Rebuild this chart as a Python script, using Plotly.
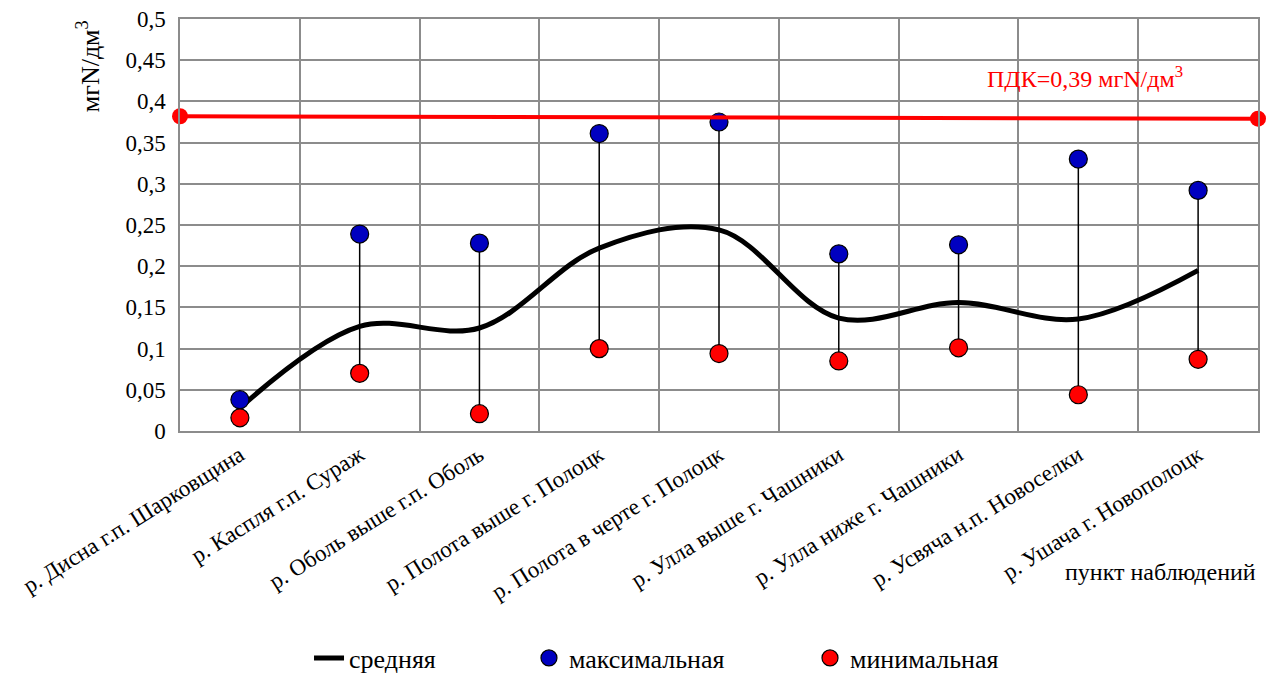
import plotly.graph_objects as go

categories = [
    "р. Дисна г.п. Шарковщина",
    "р. Каспля г.п. Сураж",
    "р. Оболь выше г.п. Оболь",
    "р. Полота выше г. Полоцк",
    "р. Полота в черте г. Полоцк",
    "р. Улла выше г. Чашники",
    "р. Улла ниже г. Чашники",
    "р. Усвяча н.п. Новоселки",
    "р. Ушача г. Новополоцк",
]
mean_vals = [0.028, 0.127, 0.125, 0.222, 0.244, 0.137, 0.156, 0.136, 0.195]
max_vals = [0.038, 0.239, 0.228, 0.361, 0.375, 0.215, 0.226, 0.330, 0.292]
min_vals = [0.016, 0.070, 0.021, 0.100, 0.094, 0.085, 0.101, 0.044, 0.087]
pdk_x = [0, 1]
pdk_vals = [0.382, 0.379]
y_ticks = [0, 0.05, 0.1, 0.15, 0.2, 0.25, 0.3, 0.35, 0.4, 0.45, 0.5]
y_ticktext = ["0", "0,05", "0,1", "0,15", "0,2", "0,25", "0,3", "0,35", "0,4", "0,45", "0,5"]

FONT = "Liberation Serif"
GRID = "#8c8c8c"


def f(size, color="black"):
    return dict(family=FONT, size=size, color=color)


fig = go.Figure()

# high-low connector lines
hl_x, hl_y = [], []
for c, lo, hi in zip(categories, min_vals, max_vals):
    hl_x += [c, c, None]
    hl_y += [lo, hi, None]
fig.add_trace(go.Scatter(x=hl_x, y=hl_y, mode="lines",
                         line=dict(color="black", width=1.5),
                         showlegend=False, hoverinfo="skip"))

fig.add_trace(go.Scatter(x=categories, y=mean_vals, mode="lines", name="средняя",
                         line=dict(color="black", width=5, shape="spline", smoothing=1.0),
                         legend="legend"))
fig.add_trace(go.Scatter(x=categories, y=max_vals, mode="markers", name="максимальная",
                         marker=dict(color="#0000C0", size=18, line=dict(color="black", width=1.2)),
                         cliponaxis=False, legend="legend2"))
fig.add_trace(go.Scatter(x=categories, y=min_vals, mode="markers", name="минимальная",
                         marker=dict(color="#FF0000", size=18, line=dict(color="black", width=1.2)),
                         cliponaxis=False, legend="legend3"))

# ПДК line on an overlay axis spanning the full plot width
fig.add_trace(go.Scatter(x=pdk_x, y=pdk_vals, xaxis="x2", mode="lines+markers",
                         line=dict(color="#FF0000", width=4),
                         marker=dict(color="#FF0000", size=16),
                         showlegend=False, cliponaxis=False, hoverinfo="skip"))

leg_common = dict(orientation="h", xref="container", yref="container", xanchor="left",
                  y=0.0223, yanchor="middle", font=f(26), itemwidth=30,
                  bgcolor="rgba(0,0,0,0)")

fig.update_layout(
    width=1278, height=673,
    margin=dict(l=180, r=20, t=19, b=242),
    paper_bgcolor="white", plot_bgcolor="white",
    font=f(23),
    xaxis=dict(type="category", tickson="boundaries", showgrid=True, gridcolor=GRID,
               gridwidth=1.5, showline=True, linecolor=GRID, linewidth=1.5, mirror=True,
               ticks="", tickangle=-32, tickfont=f(23), range=[-0.5, 8.5],
               automargin=False),
    xaxis2=dict(overlaying="x", range=[0, 1], visible=False, showgrid=False),
    yaxis=dict(range=[0, 0.5], tickvals=y_ticks, ticktext=y_ticktext, showgrid=True,
               gridcolor=GRID, gridwidth=1.5, showline=True, linecolor=GRID, linewidth=1.5,
               mirror=True, ticks="", ticklabelstandoff=8, zeroline=False,
               tickfont=f(23), automargin=False),
    legend=dict(x=0.2418, **leg_common),
    legend2=dict(x=0.4139, **leg_common),
    legend3=dict(x=0.6338, **leg_common),
    showlegend=True,
    annotations=[
        dict(text="мгN/дм<sup>3</sup>", xref="paper", yref="paper", x=-0.0853, y=1.002,
             xanchor="center", yanchor="top", textangle=-90, showarrow=False,
             font=f(26)),
        dict(text="пункт наблюдений", xref="paper", yref="paper", x=1.0, y=-0.342,
             xanchor="right", yanchor="middle", showarrow=False, font=f(24)),
        dict(text="ПДК=0,39 мгN/дм<sup>3</sup>", xref="paper", yref="paper", x=0.8395, y=0.859,
             xanchor="center", yanchor="middle", showarrow=False,
             font=f(24, "#FF0000")),
    ],
)

fig.write_html("out.html", config={"displayModeBar": False},
               post_script="document.body.style.margin='0';")
